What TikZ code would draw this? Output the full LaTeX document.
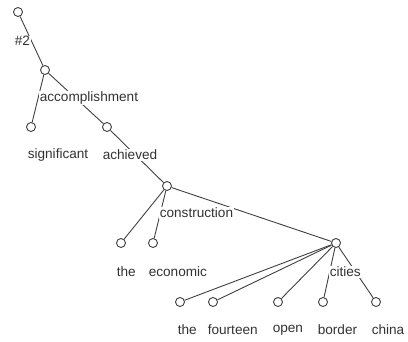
\documentclass[tikz,border=0pt]{standalone}
\usepackage{fontspec}
\setmainfont{Liberation Sans}
\usetikzlibrary{positioning}

\begin{document}
\begin{tikzpicture}[
    x=1pt, y=-1pt,
    font=\fontsize{13.6}{16}\selectfont,
    vertex/.style={circle, draw=black!75, fill=white, line width=0.9pt,
                   minimum size=9pt, inner sep=0pt},
    edge/.style={draw=black!75, line width=0.9pt},
    word/.style={anchor=west, fill=white, inner sep=0.6pt, text=black!80}
]
\useasboundingbox (0,0) rectangle (408,341);

% =========================================================================
% 1. VERTICES (dependency tree)
% =========================================================================
\node[vertex] (root) at (18,12)   {};
\node[vertex] (acc)  at (45,70)   {};
\node[vertex] (sig)  at (31,127)  {};
\node[vertex] (ach)  at (107,127) {};
\node[vertex] (con)  at (167,186) {};
\node[vertex] (theA) at (121,243) {};
\node[vertex] (eco)  at (153,243) {};
\node[vertex] (cit)  at (336,243) {};
\node[vertex] (theB) at (180,302) {};
\node[vertex] (fou)  at (213,302) {};
\node[vertex] (ope)  at (278,302) {};
\node[vertex] (bor)  at (323,302) {};
\node[vertex] (chi)  at (376,302) {};

% =========================================================================
% 2. EDGES (behind the words)
% =========================================================================
\path[edge] (root) -- (acc);
\path[edge] (acc) -- (sig);
\path[edge] (acc) -- (ach);
\path[edge] (ach) -- (con);
\path[edge] (con) -- (theA);
\path[edge] (con) -- (eco);
\path[edge] (con) -- (cit);
\foreach \leaf in {theB,fou,ope,bor,chi}
    \path[edge] (cit) -- (\leaf);

% =========================================================================
% 3. WORDS (below each vertex, white box cuts the edges)
% =========================================================================
\node[word] (wRoot) at ([xshift=-4pt,yshift=-29pt]root.center) {\#2};
\node[word] (wAcc)  at ([xshift=-6pt,yshift=-28pt]acc.center)  {accomplishment};
\node[word] (wSig)  at ([xshift=-4pt,yshift=-28pt]sig.center)  {significant};
\node[word] (wAch)  at ([xshift=-5pt,yshift=-28pt]ach.center)  {achieved};
\node[word] (wCon)  at ([xshift=-8pt,yshift=-27pt]con.center)  {construction};
\node[word] (wTheA) at ([xshift=-5pt,yshift=-29pt]theA.center) {the};
\node[word] (wEco)  at ([xshift=-5pt,yshift=-29pt]eco.center)  {economic};
\node[word] (wCit)  at ([xshift=-7pt,yshift=-29pt]cit.center)  {cities};
\node[word] (wTheB) at ([xshift=-3pt,yshift=-28pt]theB.center) {the};
\node[word] (wFou)  at ([xshift=-6pt,yshift=-28pt]fou.center)  {fourteen};
\node[word] (wOpe)  at ([xshift=-6pt,yshift=-28pt]ope.center)  {open};
\node[word] (wBor)  at ([xshift=-6pt,yshift=-28pt]bor.center)  {border};
\node[word] (wChi)  at ([xshift=-5pt,yshift=-28pt]chi.center)  {china};

\end{tikzpicture}
\end{document}
